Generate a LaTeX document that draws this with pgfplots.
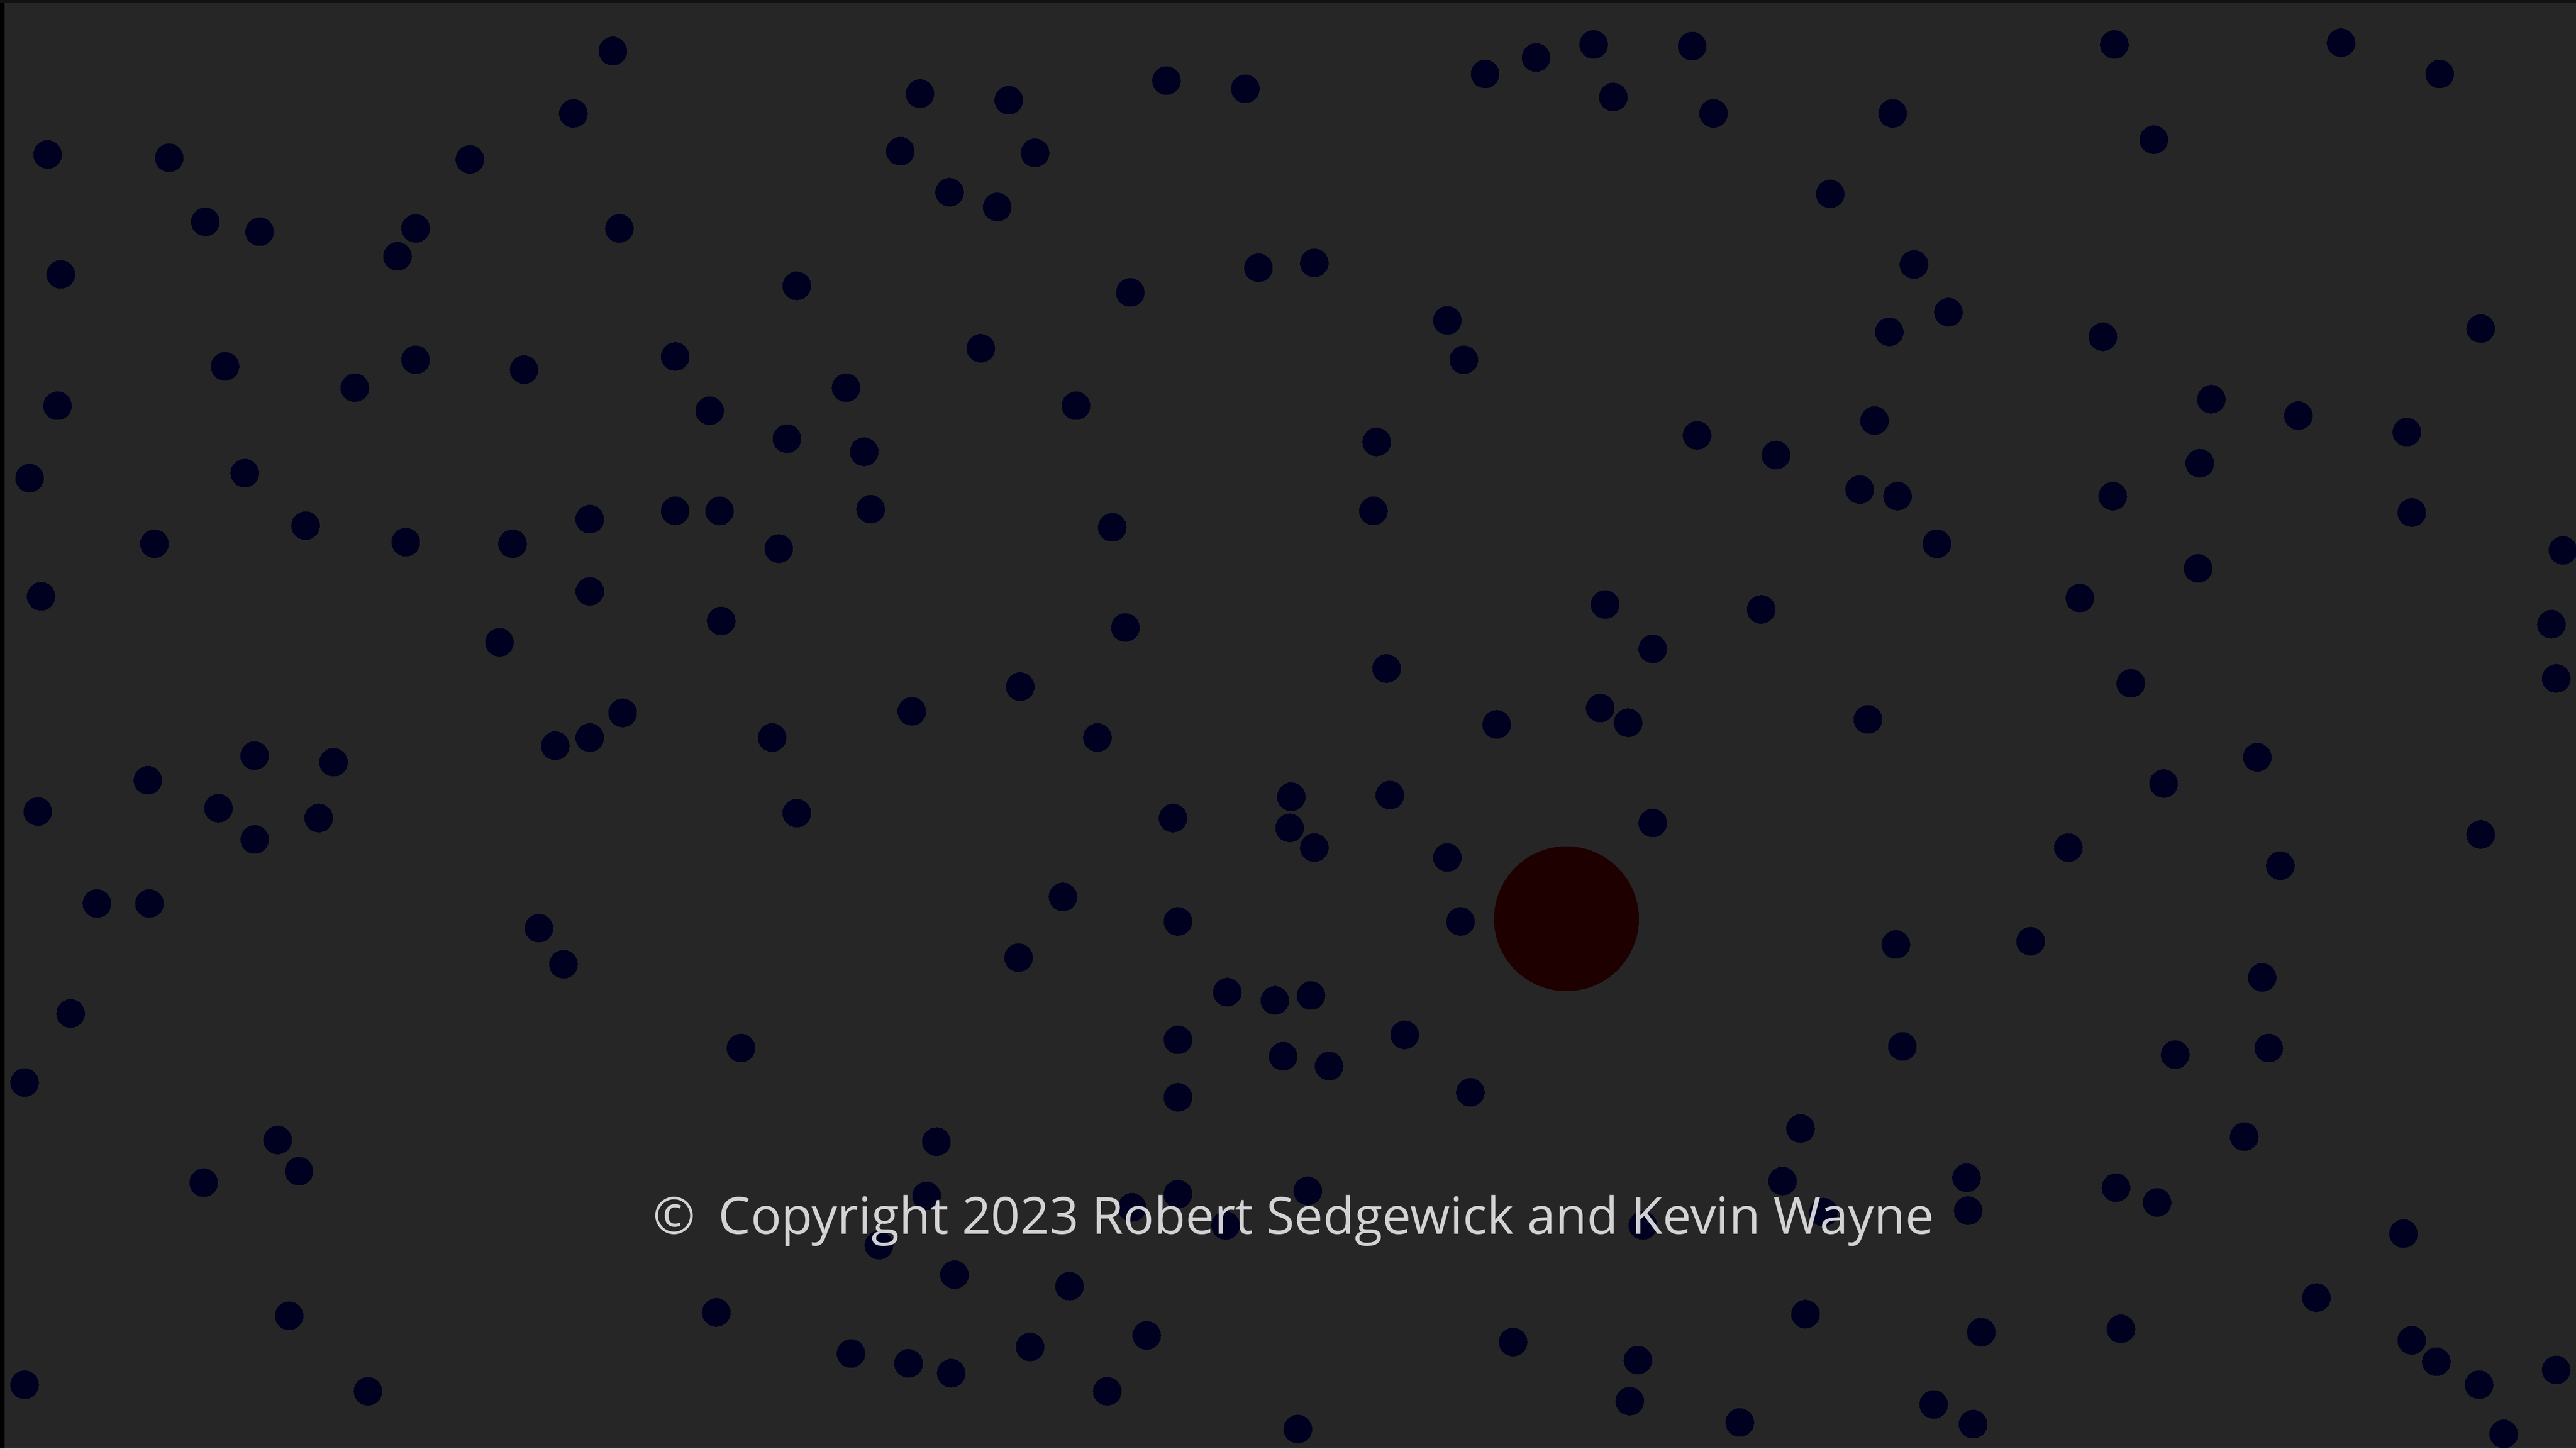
\documentclass[border=0pt]{standalone}
\usepackage{pgfplots}
\pgfplotsset{compat=1.18}
\usepackage{fontspec}
\setmainfont{Open Sans}
\definecolor{bg}{RGB}{38,38,38}
\definecolor{dotc}{RGB}{0,0,32}
\definecolor{bigc}{RGB}{30,0,0}
\definecolor{txt}{RGB}{226,226,228}
\begin{document}
\begin{tikzpicture}
\fill[bg] (0,0) rectangle (512pt,288pt);
\fill[black] (0,0) rectangle (0.9pt,288pt);
\fill[black!93!white] (0,287.5pt) rectangle (512pt,288pt);
\begin{axis}[
  at={(0,0)}, anchor=south west,
  width=512pt, height=288pt, scale only axis,
  xmin=-1, xmax=1567, ymin=-1, ymax=881, y dir=reverse,
  hide axis, clip=true,
]
\addplot[only marks, color=dotc, mark=*, mark size=2.8pt, mark options={fill=dotc, draw=dotc, line width=0pt}] coordinates {
(372,30) (28,93) (102,95) (348,68) (285,96) (559,56) (613,60) (547,91) (629,92) (577,116) (606,125) (709,48) (757,53) (903,44) (934,34) (969,26) (981,58) (1029,27) (1042,68) (1151,68) (1286,26) (1310,84) (1424,25) (1484,44) (1113,117)
(124,134) (157,140) (252,138) (241,155) (376,138) (36,166) (484,173) (687,177) (765,162) (799,159) (880,194) (890,218) (1164,160) (1185,189) (1149,201) (1279,204) (1509,199)
(136,222) (252,218) (215,235) (318,224) (410,216) (596,211) (34,246) (431,249) (514,235) (654,246) (478,266) (525,274) (837,268) (1032,264) (1080,276) (1140,255) (1345,242) (1398,252) (1464,262) (1338,281)
(17,290) (148,287) (93,330) (185,319) (246,329) (311,330) (358,315) (410,310) (437,310) (529,309) (473,333) (676,320) (835,310) (1131,297) (1154,301) (1285,301) (1467,311) (1559,334) (1178,330)
(24,362) (358,359) (303,390) (438,377) (684,381) (976,367) (1071,370) (1005,394) (1265,363) (1337,345) (1552,379) (1555,412)
(843,406) (620,417) (1296,415) (378,433) (337,453) (358,448) (469,448) (554,432) (667,448) (910,440) (973,430) (990,439) (1136,437)
(89,474) (154,459) (202,463) (22,493) (132,491) (193,497) (154,510) (484,494) (713,497) (785,484) (784,503) (799,515) (845,483) (1005,500) (1373,460) (1316,476) (1258,515) (1509,507) (880,521) (1387,526)
(58,549) (90,549) (327,564) (342,586) (646,545) (716,560) (888,560) (619,582) (1153,574) (1235,572) (42,616) (1376,594)
(746,603) (775,608) (797,605) (14,658) (450,637) (716,632) (780,642) (808,648) (854,629) (1157,636) (1323,641) (1380,637) (716,667) (894,664)
(168,693) (569,694) (181,712) (123,719) (1095,686) (1365,691) (1084,718) (1196,716) (1287,722) (1312,731) (1197,736) (1462,750) (1109,737)
(563,727) (688,734) (716,726) (795,724) (745,745) (534,757) (999,745)
(580,775) (650,782) (175,800) (435,798) (1098,799) (1409,789) (697,812) (1205,810) (1290,808) (517,823) (626,819) (552,829) (578,835) (920,816) (996,827) (1467,815) (1482,828) (14,842) (223,846) (673,846) (991,852) (1176,854) (1508,842) (1555,833) (789,869) (1058,865) (1200,866) (1523,872)
};
\addplot[only marks, color=bigc, mark=*, mark size=14.35pt, mark options={fill=bigc, draw=bigc, line width=0pt}] coordinates {(952.5,558.3)};
\end{axis}
\node[anchor=base west, inner sep=0pt, text=txt, opacity=0.92, font=\fontsize{10.15}{12}\selectfont] at (129.6pt,{288pt-245.3pt}) {©\hspace{0.45em}Copyright 2023 Robert Sedgewick and Kevin Wayne};
\pgfresetboundingbox
\path[use as bounding box] (0,0) rectangle (512pt,288pt);
\end{tikzpicture}
\end{document}
